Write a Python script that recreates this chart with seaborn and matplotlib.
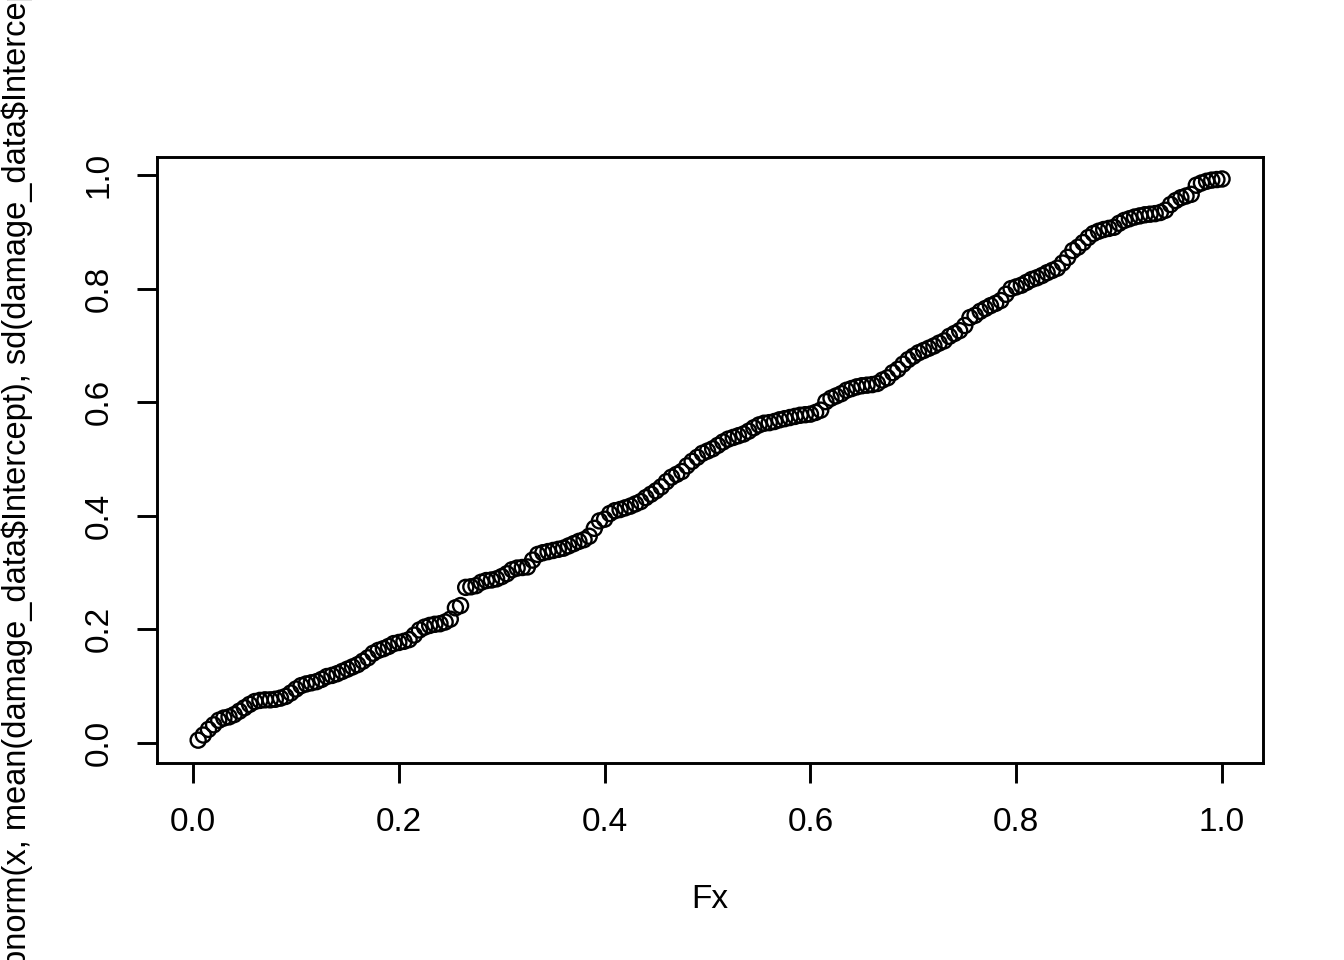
import numpy as np
import pandas as pd
import seaborn as sns
import matplotlib
matplotlib.use("Agg")
import matplotlib.pyplot as plt

# P-P plot: empirical CDF (Fx) vs fitted normal CDF
fx = [0.005, 0.010, 0.015, 0.020, 0.025, 0.030, 0.035, 0.040, 0.045, 0.050,
      0.055, 0.060, 0.065, 0.070, 0.075, 0.080, 0.085, 0.090, 0.095, 0.100,
      0.105, 0.110, 0.115, 0.120, 0.125, 0.130, 0.135, 0.140, 0.145, 0.150,
      0.155, 0.160, 0.165, 0.170, 0.175, 0.180, 0.185, 0.190, 0.195, 0.200,
      0.205, 0.210, 0.215, 0.220, 0.225, 0.230, 0.235, 0.240, 0.245, 0.250,
      0.255, 0.260, 0.265, 0.270, 0.275, 0.280, 0.285, 0.290, 0.295, 0.300,
      0.305, 0.310, 0.315, 0.320, 0.325, 0.330, 0.335, 0.340, 0.345, 0.350,
      0.355, 0.360, 0.365, 0.370, 0.375, 0.380, 0.385, 0.390, 0.395, 0.400,
      0.405, 0.410, 0.415, 0.420, 0.425, 0.430, 0.435, 0.440, 0.445, 0.450,
      0.455, 0.460, 0.465, 0.470, 0.475, 0.480, 0.485, 0.490, 0.495, 0.500,
      0.505, 0.510, 0.515, 0.520, 0.525, 0.530, 0.535, 0.540, 0.545, 0.550,
      0.555, 0.560, 0.565, 0.570, 0.575, 0.580, 0.585, 0.590, 0.595, 0.600,
      0.605, 0.610, 0.615, 0.620, 0.625, 0.630, 0.635, 0.640, 0.645, 0.650,
      0.655, 0.660, 0.665, 0.670, 0.675, 0.680, 0.685, 0.690, 0.695, 0.700,
      0.705, 0.710, 0.715, 0.720, 0.725, 0.730, 0.735, 0.740, 0.745, 0.750,
      0.755, 0.760, 0.765, 0.770, 0.775, 0.780, 0.785, 0.790, 0.795, 0.800,
      0.805, 0.810, 0.815, 0.820, 0.825, 0.830, 0.835, 0.840, 0.845, 0.850,
      0.855, 0.860, 0.865, 0.870, 0.875, 0.880, 0.885, 0.890, 0.895, 0.900,
      0.905, 0.910, 0.915, 0.920, 0.925, 0.930, 0.935, 0.940, 0.945, 0.950,
      0.955, 0.960, 0.965, 0.970, 0.975, 0.980, 0.985, 0.990, 0.995, 1.000]

pnorm_vals = [0.005, 0.014, 0.024, 0.032, 0.040, 0.044, 0.046, 0.050, 0.056, 0.062,
              0.068, 0.073, 0.075, 0.076, 0.076, 0.077, 0.079, 0.082, 0.088, 0.095,
              0.101, 0.104, 0.106, 0.108, 0.112, 0.117, 0.119, 0.122, 0.126, 0.130,
              0.134, 0.138, 0.144, 0.150, 0.158, 0.163, 0.166, 0.170, 0.175, 0.177,
              0.179, 0.182, 0.190, 0.199, 0.204, 0.207, 0.209, 0.210, 0.213, 0.218,
              0.238, 0.242, 0.274, 0.275, 0.277, 0.283, 0.286, 0.287, 0.289, 0.293,
              0.298, 0.305, 0.308, 0.309, 0.310, 0.322, 0.332, 0.335, 0.337, 0.339,
              0.341, 0.343, 0.347, 0.351, 0.355, 0.358, 0.364, 0.378, 0.391, 0.394,
              0.404, 0.409, 0.411, 0.414, 0.417, 0.421, 0.425, 0.432, 0.438, 0.444,
              0.451, 0.460, 0.468, 0.473, 0.478, 0.488, 0.496, 0.503, 0.510, 0.514,
              0.518, 0.524, 0.530, 0.535, 0.538, 0.541, 0.544, 0.549, 0.555, 0.560,
              0.563, 0.564, 0.566, 0.569, 0.571, 0.573, 0.575, 0.577, 0.578, 0.579,
              0.582, 0.586, 0.601, 0.607, 0.611, 0.615, 0.621, 0.624, 0.627, 0.629,
              0.630, 0.631, 0.633, 0.639, 0.643, 0.652, 0.658, 0.667, 0.675, 0.681,
              0.687, 0.691, 0.695, 0.699, 0.704, 0.708, 0.716, 0.721, 0.726, 0.735,
              0.749, 0.753, 0.760, 0.765, 0.770, 0.774, 0.779, 0.790, 0.800, 0.803,
              0.806, 0.811, 0.816, 0.819, 0.823, 0.828, 0.832, 0.836, 0.845, 0.855,
              0.867, 0.873, 0.881, 0.890, 0.897, 0.901, 0.904, 0.906, 0.908, 0.915,
              0.920, 0.923, 0.926, 0.928, 0.930, 0.931, 0.932, 0.934, 0.938, 0.948,
              0.955, 0.960, 0.963, 0.966, 0.982, 0.986, 0.989, 0.991, 0.992, 0.993]

tick_vals = [0.0, 0.2, 0.4, 0.6, 0.8, 1.0]
tick_labels = ["0.0", "0.2", "0.4", "0.6", "0.8", "1.0"]

df = pd.DataFrame({"Fx": fx, "p": pnorm_vals})

sns.set_style("white")
plt.rcParams["font.family"] = ["Liberation Sans", "DejaVu Sans"]
plt.rcParams["text.color"] = "black"
plt.rcParams["axes.labelcolor"] = "black"

fig = plt.figure(figsize=(13.44, 9.6), dpi=100)
ax = fig.add_axes([157 / 1344, 197 / 960, 1106 / 1344, 606 / 960])

sns.scatterplot(data=df, x="Fx", y="p", ax=ax, marker="o", s=118,
                facecolor="none", edgecolor="black", linewidth=1.7, legend=False)

# R-style 4% padding on both axes
ax.set_xlim(-0.035, 1.0398)
ax.set_ylim(-0.0352, 1.0317)

ax.set_xticks(tick_vals)
ax.set_xticklabels(tick_labels)
ax.set_yticks(tick_vals)
ax.set_yticklabels(tick_labels, rotation=90, va="center")
ax.tick_params(axis="both", direction="out", length=14.5, width=2.1,
               labelsize=24, color="black", labelcolor="black",
               bottom=True, left=True)
ax.tick_params(axis="x", pad=17)
ax.tick_params(axis="y", pad=16)

for sp in ax.spines.values():
    sp.set_color("black")
    sp.set_linewidth(2.1)

ax.set_xlabel("Fx", fontsize=24, va="center", color="black")
ax.xaxis.set_label_coords(0.5, (763 - 899) / 606)
# the long R label runs off both ends of the figure, as in the original
ax.set_ylabel(r"pnorm(x, mean(damage_data\$Intercept), sd(damage_data\$Intercept))",
              fontsize=23.5, va="center", color="black")
ax.yaxis.set_label_coords((17 - 157) / 1106, 0.5)

fig.savefig("out.png", dpi=100)
